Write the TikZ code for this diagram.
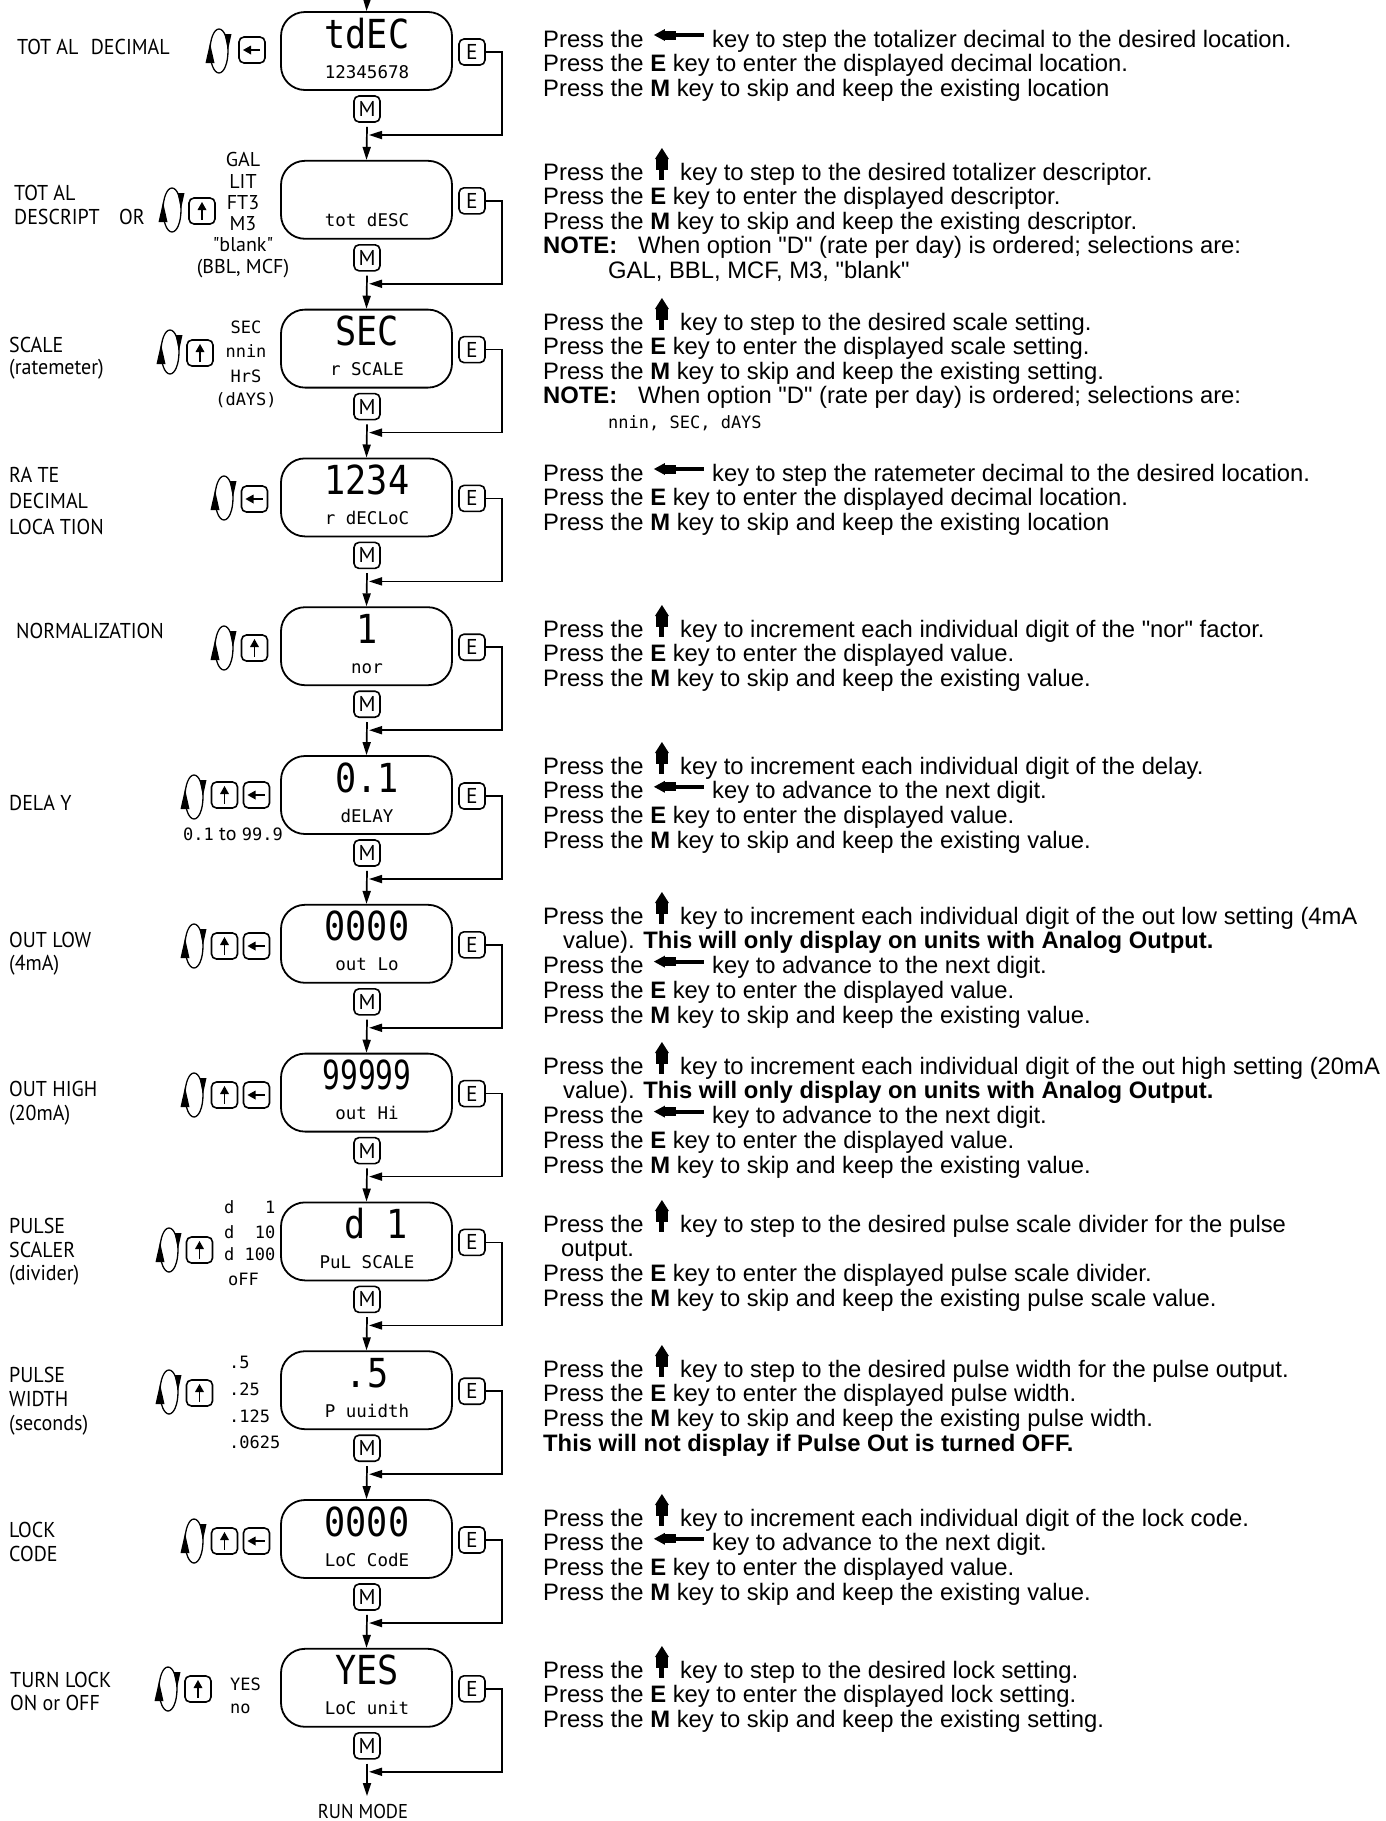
\documentclass[tikz,border=0pt]{standalone}
\usepackage{fontspec}
\setmainfont{Liberation Sans}[Ligatures=TeXOff]
\newfontfamily\ptsans{PT Sans}[FakeStretch=0.93,Ligatures=TeXOff]
\newfontfamily\ptsanslist{PT Sans}[Ligatures=TeXOff]
\newfontfamily\lcdfam{DejaVu Sans Mono}
\newfontfamily\lcdbigfam{DejaVu Sans Mono}[FakeStretch=0.88]
\newfontfamily\lcdnarrowfam{DejaVu Sans Mono}[FakeStretch=0.74]
\usetikzlibrary{arrows.meta,calc}
\newcommand\RTfont{\fontsize{23.8}{24.5}\selectfont}
\newcommand\LBfont{\ptsans\fontsize{21.5}{24}\selectfont}
\newcommand\LSfont{\ptsanslist\fontsize{20}{22}\selectfont}
\newcommand\KEYfont{\ptsanslist\fontsize{21.5}{24}\selectfont}
\newcommand\BIGfont{\lcdbigfam\fontsize{40}{40}\selectfont}
\newcommand\NARfont{\lcdnarrowfam\fontsize{40}{40}\selectfont}
\newcommand\SMfont{\lcdfam\fontsize{17.5}{18}\selectfont}
\newcommand\LCfont{\lcdfam\fontsize{17}{18}\selectfont}
\tikzset{
  lcdbox/.style={draw,line width=1.8pt,rounded corners=24pt,minimum width=171pt,minimum height=78pt,inner sep=0pt},
  keybox/.style={draw,line width=1.6pt,rounded corners=5pt,minimum width=26pt,minimum height=26pt,inner sep=0pt,font=\KEYfont},
  arr/.style={line width=1.7pt,-{Triangle[length=13pt,width=8pt]}},
  rt/.style={anchor=base west,inner sep=0pt,font=\RTfont},
  lb/.style={anchor=base west,inner sep=0pt,font=\LBfont},
  lst/.style={anchor=base,inner sep=0pt,font=\LSfont},
  lcl/.style={anchor=base west,inner sep=0pt,font=\LCfont},
  lcc/.style={anchor=base,inner sep=0pt,font=\LCfont},
  bigt/.style={anchor=base,inner sep=0pt,font=\BIGfont},
  smt/.style={anchor=base,inner sep=0pt,font=\SMfont},
  rotsym/.pic={
    \draw[line width=1.3pt] (0,0) ellipse [x radius=9pt,y radius=22pt];
    \fill (-9,-8) -- (-13.5,12) -- (-4.5,12) -- cycle;
    \fill (9,-1) -- (5.5,-17) -- (12.5,-17) -- cycle;
  },
  larrow/.pic={
    \draw[line width=1.5pt] (8,0) -- (-2,0);
    \fill (-9,0) -- (-1,-4.5) -- (-1,4.5) -- cycle;
  },
  uarrow/.pic={
    \draw[line width=1.5pt] (0,9) -- (0,-2);
    \fill (0,-9) -- (-4.5,-1) -- (4.5,-1) -- cycle;
  },
  lefticon/.pic={
    \fill (0,0) -- (11,-6) -- (11,6) -- cycle;
    \fill (9,-4.5) rectangle (22,4.5);
    \fill (21,-2) rectangle (50,2);
  },
  upicon/.pic={
    \fill (0,-32) -- (7,-21) -- (-7,-21) -- cycle;
    \fill (-6,-22) rectangle (6,-10);
    \fill (-2.5,-11) rectangle (2.5,0);
  }
}
\newcommand\Tline[3]{\node[rt] (#1) at (543,#2) {#3};}
\newcommand\Lline[3]{\node[rt] (#1a) at (543,#2) {Press the};
  \pic at ($(#1a.base east)+(10,-12)$) {lefticon};
  \node[rt] (#1b) at ($(#1a.base east)+(68,0)$) {#3};}
\newcommand\Uline[3]{\node[rt] (#1a) at (543,#2) {Press the};
  \pic at ($(#1a.base east)+(18,0)$) {upicon};
  \node[rt] (#1b) at ($(#1a.base east)+(36,0)$) {#3};}
\begin{document}
\begin{tikzpicture}[x=1pt,y=-1pt]
\fill[white] (0,0) rectangle (1386,1821);
\useasboundingbox (0,0) rectangle (1386,1821);

% ---------- displays, keys and connectors ----------
\foreach \i/\bg/\sm/\bx in {0/tdEC/12345678/367, 1/{}/tot dESC/367, 2/SEC/r SCALE/367, 3/1234/r dECLoC/367, 4/1/nor/367, 5/0.1/dELAY/367, 6/0000/out Lo/367, 7/{\NARfont 99999}/out Hi/367, 8/d~1/PuL SCALE/376, 9/.5/P uuidth/367, 10/0000/LoC CodE/367, 11/YES/LoC unit/367}{
  \pgfmathsetmacro\T{12+148.8*\i}
  \node[lcdbox] (box\i) at (366.5,\T+39) {};
  \node[bigt] (bg\i) at (\bx,\T+36) {\bg};
  \node[smt] (sm\i) at (367,\T+66) {\sm};
  \node[keybox] (E\i) at (472,\T+40) {E};
  \node[keybox] (M\i) at (367,\T+97) {M};
  \coordinate (c\i) at (502,\T+123);
  \coordinate (j\i) at (369,\T+123);
  \draw[arr] (E\i.east) -| (c\i) -- (j\i);
}
\foreach \i [evaluate=\i as \j using int(\i+1)] in {0,...,10}{
  \draw[arr] ($(M\i.south)+(0,4)$) -- (box\j.north);
}
\coordinate (start) at (367,0);
\draw[arr] (start) -- (box0.north);
\node[anchor=base,inner sep=0pt,font=\ptsans\fontsize{20}{22}\selectfont] (run) at (363,1818) {RUN MODE};
\coordinate (runtop) at (367,1796);
\draw[arr] ($(M11.south)+(0,4)$) -- (runtop);

% ---------- left key groups ----------
\pic at (219,51) {rotsym};
\node[keybox] (ka0) at (252,50) {}; \pic at (ka0) {larrow};
\pic at (172,210) {rotsym};
\node[keybox] (ka1) at (202,211) {}; \pic at (ka1) {uarrow};
\pic at (170,352) {rotsym};
\node[keybox] (ka2) at (200,353) {}; \pic at (ka2) {uarrow};
\pic at (224,498) {rotsym};
\node[keybox] (ka3) at (254.5,499) {}; \pic at (ka3) {larrow};
\pic at (224,648) {rotsym};
\node[keybox] (ka4) at (254.5,648) {}; \pic at (ka4) {uarrow};
\pic at (194,797) {rotsym};
\node[keybox] (ka5) at (224.5,795) {}; \pic at (ka5) {uarrow};
\node[keybox] (kb5) at (256.5,795) {}; \pic at (kb5) {larrow};
\pic at (194,946) {rotsym};
\node[keybox] (ka6) at (224.5,946) {}; \pic at (ka6) {uarrow};
\node[keybox] (kb6) at (256.5,946) {}; \pic at (kb6) {larrow};
\pic at (194,1095) {rotsym};
\node[keybox] (ka7) at (224.5,1095) {}; \pic at (ka7) {uarrow};
\node[keybox] (kb7) at (256.5,1095) {}; \pic at (kb7) {larrow};
\pic at (169,1250) {rotsym};
\node[keybox] (ka8) at (199.5,1250) {}; \pic at (ka8) {uarrow};
\pic at (169,1392) {rotsym};
\node[keybox] (ka9) at (199.5,1393) {}; \pic at (ka9) {uarrow};
\pic at (194,1541) {rotsym};
\node[keybox] (ka10) at (224.5,1541) {}; \pic at (ka10) {uarrow};
\node[keybox] (kb10) at (256.5,1541) {}; \pic at (kb10) {larrow};
\pic at (168,1689) {rotsym};
\node[keybox] (ka11) at (198,1689) {}; \pic at (ka11) {uarrow};

% ---------- option lists ----------
\node[lst] (g1) at (243,166) {GAL};
\node[lst] (g2) at (243,188) {LIT};
\node[lst] (g3) at (243,209) {FT3};
\node[lst] (g4) at (243,230) {M3};
\node[lst] (g5) at (243,251) {"blank"};
\node[lst] (g6) at (243,273) {(BBL, MCF)};
\node[lcc] (s1) at (246,333) {SEC};
\node[lcc] (s2) at (246,357) {nnin};
\node[lcc] (s3) at (246,382) {HrS};
\node[lcc] (s4) at (246,405) {(dAYS)};
\node[anchor=base west,inner sep=0pt,font=\LSfont] (dl) at (183,840) {{\LCfont 0.1} to {\LCfont 99.9}};
\node[lcl] (d1) at (224,1213) {d~~~1};
\node[lcl] (d2) at (224,1238) {d~~10};
\node[lcl] (d3) at (224,1260) {d~100};
\node[lcl] (d4) at (228,1285) {oFF};
\node[lcl] (w1) at (229,1368) {.5};
\node[lcl] (w2) at (229,1395) {.25};
\node[lcl] (w3) at (229,1422) {.125};
\node[lcl] (w4) at (229,1448) {.0625};
\node[lcl] (y1) at (230,1690) {YES};
\node[lcl] (y2) at (230,1713) {no};

% ---------- left labels ----------
\node[lb] (t0) at (17,54) {TOT AL\hspace{7pt} DECIMAL};
\node[lb] (t1a) at (14,200) {TOT AL};
\node[lb] (t1b) at (14,224) {DESCRIPT};
\node[lb] (t1c) at (119,224) {OR};
\node[lb] (t2a) at (9,352) {SCALE};
\node[lb] (t2b) at (9,374) {(ratemeter)};
\node[lb] (t3a) at (9,482) {RA TE};
\node[lb] (t3b) at (9,508) {DECIMAL};
\node[lb] (t3c) at (9,534) {LOCA TION};
\node[lb] (t4) at (16,638) {NORMALIZATION};
\node[lb] (t5) at (9,810) {DELA Y};
\node[lb] (t6a) at (9,947) {OUT LOW};
\node[lb] (t6b) at (9,970) {(4mA)};
\node[lb] (t7a) at (9,1096) {OUT HIGH};
\node[lb] (t7b) at (9,1120) {(20mA)};
\node[lb] (t8a) at (9,1233) {PULSE};
\node[lb] (t8b) at (9,1257) {SCALER};
\node[lb] (t8c) at (9,1280) {(divider)};
\node[lb] (t9a) at (9,1382) {PULSE};
\node[lb] (t9b) at (9,1406) {WIDTH};
\node[lb] (t9c) at (9,1430) {(seconds)};
\node[lb] (t10a) at (9,1537) {LOCK};
\node[lb] (t10b) at (9,1561) {CODE};
\node[lb] (t11a) at (10,1687) {TURN LOCK};
\node[lb] (t11b) at (10,1710) {ON or OFF};

% ---------- right column text ----------
\Lline{r0a}{47}{key to step the totalizer decimal to the desired location.}
\Tline{r0b}{71.8}{Press the \textbf{E} key to enter the displayed decimal location.}
\Tline{r0c}{96.6}{Press the \textbf{M} key to skip and keep the existing location}

\Uline{r1a}{180}{key to step to the desired totalizer descriptor.}
\Tline{r1b}{204.6}{Press the \textbf{E} key to enter the displayed descriptor.}
\Tline{r1c}{229.2}{Press the \textbf{M} key to skip and keep the existing descriptor.}
\Tline{r1d}{253.8}{\textbf{NOTE:}}
\node[rt] (r1e) at (638,253.8) {When option "D" (rate per day) is ordered; selections are:};
\node[rt] (r1f) at (608,278.4) {GAL, BBL, MCF, M3, "blank"};

\Uline{r2a}{330}{key to step to the desired scale setting.}
\Tline{r2b}{354.6}{Press the \textbf{E} key to enter the displayed scale setting.}
\Tline{r2c}{379.2}{Press the \textbf{M} key to skip and keep the existing setting.}
\Tline{r2d}{403.8}{\textbf{NOTE:}}
\node[rt] (r2e) at (638,403.8) {When option "D" (rate per day) is ordered; selections are:};
\node[lcl] (r2f) at (608,428.4) {nnin, SEC, dAYS};

\Lline{r3a}{481}{key to step the ratemeter decimal to the desired location.}
\Tline{r3b}{505.8}{Press the \textbf{E} key to enter the displayed decimal location.}
\Tline{r3c}{530.6}{Press the \textbf{M} key to skip and keep the existing location}

\Uline{r4a}{637}{key to increment each individual digit of the "nor" factor.}
\Tline{r4b}{661.8}{Press the \textbf{E} key to enter the displayed value.}
\Tline{r4c}{686.6}{Press the \textbf{M} key to skip and keep the existing value.}

\Uline{r5a}{774}{key to increment each individual digit of the delay.}
\Lline{r5b}{798.8}{key to advance to the next digit.}
\Tline{r5c}{823.6}{Press the \textbf{E} key to enter the displayed value.}
\Tline{r5d}{848.4}{Press the \textbf{M} key to skip and keep the existing value.}

\Uline{r6a}{924}{key to increment each individual digit of the out low setting (4mA}
\node[rt] (r6b) at (563,948.8) {value). \textbf{This will only display on units with Analog Output.}};
\Lline{r6c}{973.6}{key to advance to the next digit.}
\Tline{r6d}{998.4}{Press the \textbf{E} key to enter the displayed value.}
\Tline{r6e}{1023.2}{Press the \textbf{M} key to skip and keep the existing value.}

\Uline{r7a}{1074}{key to increment each individual digit of the out high setting (20mA}
\node[rt] (r7b) at (563,1098.8) {value). \textbf{This will only display on units with Analog Output.}};
\Lline{r7c}{1123.6}{key to advance to the next digit.}
\Tline{r7d}{1148.4}{Press the \textbf{E} key to enter the displayed value.}
\Tline{r7e}{1173.2}{Press the \textbf{M} key to skip and keep the existing value.}

\Uline{r8a}{1232}{key to step to the desired pulse scale divider for the pulse}
\node[rt] (r8b) at (561,1256.8) {output.};
\Tline{r8c}{1281.6}{Press the \textbf{E} key to enter the displayed pulse scale divider.}
\Tline{r8d}{1306.4}{Press the \textbf{M} key to skip and keep the existing pulse scale value.}

\Uline{r9a}{1377}{key to step to the desired pulse width for the pulse output.}
\Tline{r9b}{1401.8}{Press the \textbf{E} key to enter the displayed pulse width.}
\Tline{r9c}{1426.6}{Press the \textbf{M} key to skip and keep the existing pulse width.}
\Tline{r9d}{1451.4}{\textbf{This will not display if Pulse Out is turned OFF.}}

\Uline{r10a}{1526}{key to increment each individual digit of the lock code.}
\Lline{r10b}{1550.8}{key to advance to the next digit.}
\Tline{r10c}{1575.6}{Press the \textbf{E} key to enter the displayed value.}
\Tline{r10d}{1600.4}{Press the \textbf{M} key to skip and keep the existing value.}

\Uline{r11a}{1678}{key to step to the desired lock setting.}
\Tline{r11b}{1702.8}{Press the \textbf{E} key to enter the displayed lock setting.}
\Tline{r11c}{1727.6}{Press the \textbf{M} key to skip and keep the existing setting.}
\end{tikzpicture}
\end{document}
